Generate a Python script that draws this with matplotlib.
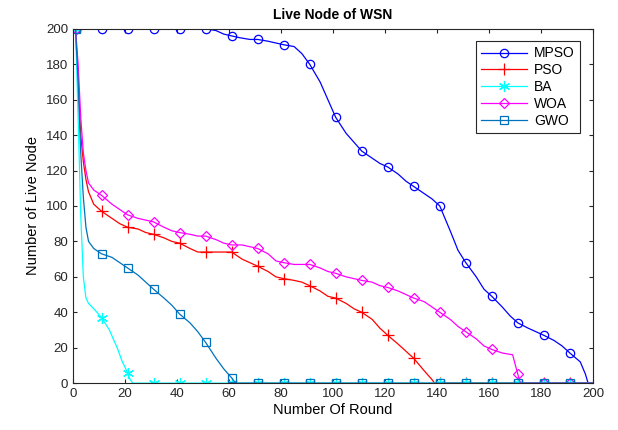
import matplotlib.pyplot as plt

plt.rcParams['font.family'] = ['Liberation Sans', 'DejaVu Sans']

# rounds / live nodes
mpso_x = [1, 11, 21, 31, 41, 51, 55, 58, 61, 64, 68, 71, 75, 78, 81, 85, 88, 91, 95, 98,
          101, 105, 108, 111, 115, 118, 121, 125, 128, 131, 135, 138, 141, 145, 148, 151,
          155, 158, 161, 165, 168, 171, 175, 178, 181, 185, 188, 191, 195, 197, 198, 200]
mpso_y = [200, 200, 200, 200, 200, 200, 199, 197, 196, 195, 194, 194, 193, 192, 191, 190, 186, 180, 170, 160,
          150, 141, 136, 131, 127, 124, 122, 118, 114, 111, 107, 104, 100, 86, 75, 68,
          60, 53, 49, 43, 38, 34, 31, 29, 27, 24, 21, 17, 12, 5, 0, 0]

pso_x = [1, 2, 3, 4, 5, 6, 8, 11, 15, 18, 21, 25, 28, 31, 35, 38, 41, 45, 48, 51, 56, 61,
         65, 68, 71, 75, 78, 81, 85, 88, 91, 95, 98, 101, 105, 108, 111, 115, 118, 121,
         125, 128, 131, 135, 138, 139, 141, 151, 161, 171, 181, 191, 200]
pso_y = [200, 170, 140, 125, 115, 108, 101, 97, 93, 90, 88, 87, 85, 84, 82, 80, 79, 76, 74, 74, 74, 74,
         70, 68, 66, 63, 60, 59, 58, 57, 55, 52, 49, 48, 45, 42, 40, 36, 31, 27,
         22, 18, 14, 7, 2, 0, 0, 0, 0, 0, 0, 0, 0]

ba_x = [1, 2, 3, 4, 5, 6, 8, 11, 14, 17, 19, 21, 22, 23, 31, 41, 51, 61, 71, 81, 91,
        101, 111, 121, 131, 141, 151, 161, 171, 181, 191, 200]
ba_y = [200, 150, 95, 60, 48, 45, 42, 37, 30, 20, 12, 6, 2, 0, 0, 0, 0, 0, 0, 0, 0,
        0, 0, 0, 0, 0, 0, 0, 0, 0, 0, 0]

woa_x = [1, 2, 3, 4, 5, 6, 8, 11, 15, 18, 21, 25, 28, 31, 35, 38, 41, 45, 48, 51, 55, 58,
         61, 65, 68, 71, 75, 78, 81, 85, 88, 91, 95, 98, 101, 105, 108, 111, 115, 118,
         121, 125, 128, 131, 135, 138, 141, 145, 148, 151, 155, 158, 161, 165, 169, 171,
         172, 181, 191, 200]
woa_y = [200, 180, 150, 130, 120, 113, 109, 106, 101, 98, 95, 93, 92, 91, 88, 86, 85, 84, 83, 83, 81, 79,
         78, 78, 77, 76, 73, 69, 68, 67, 67, 67, 65, 63, 62, 60, 59, 58, 57, 55,
         54, 52, 50, 48, 46, 43, 40, 36, 32, 29, 25, 21, 19, 17, 16, 5,
         0, 0, 0, 0]

gwo_x = [1, 2, 3, 4, 5, 6, 8, 11, 15, 18, 21, 25, 28, 31, 35, 38, 41, 45, 48, 51, 55, 58,
         61, 62, 63, 71, 81, 91, 101, 111, 121, 131, 141, 151, 161, 171, 181, 191, 200]
gwo_y = [200, 170, 130, 105, 88, 80, 76, 73, 71, 68, 65, 61, 57, 53, 48, 44, 39, 34, 29, 23, 14, 8,
         3, 1, 0, 0, 0, 0, 0, 0, 0, 0, 0, 0, 0, 0, 0, 0, 0]

# name, x, y, colour, marker, marker size
series = [
    ('MPSO', mpso_x, mpso_y, '#0000ff', 'o', 6),
    ('PSO', pso_x, pso_y, '#ff0000', '+', 8),
    ('BA', ba_x, ba_y, '#00ffff', (6, 2, 0), 8),
    ('WOA', woa_x, woa_y, '#ff00ff', 'D', 5.5),
    ('GWO', gwo_x, gwo_y, '#0072bd', 's', 5.5),
]

fig = plt.figure(figsize=(6.18, 4.30), dpi=100)
ax = fig.add_axes([0.118, 0.109, 0.842, 0.824])

for name, xs, ys, col, mk, ms in series:
    marks = [i for i, v in enumerate(xs) if (v - 1) % 10 == 0 and v <= 191]
    ax.plot(xs, ys, color=col, lw=0.9, marker=mk, markevery=marks,
            markersize=ms, mfc='none', mec=col, mew=0.9, label=name)

ax.set_xlim(0, 200)
ax.set_ylim(0, 200)
ax.set_xticks(range(0, 201, 20))
ax.set_yticks(range(0, 201, 20))
ax.tick_params(direction='in', length=3, top=True, right=True, labelsize=9.5, colors='#262626')
for s in ax.spines.values():
    s.set_color('#262626')
    s.set_linewidth(0.8)

ax.set_title('Live Node of WSN', fontsize=10, fontweight='bold', pad=7)
ax.set_xlabel('Number Of Round', fontsize=10.5, labelpad=2)
ax.set_ylabel('Number of Live Node', fontsize=10.5, labelpad=4)

leg = ax.legend(loc='upper right', bbox_to_anchor=(0.975, 0.966), borderaxespad=0,
                fontsize=10, fancybox=False, framealpha=1, edgecolor='#262626',
                handlelength=3.3, borderpad=0.4, labelspacing=0.2, handletextpad=0.5)
leg.get_frame().set_linewidth(0.8)

fig.savefig('out.png', dpi=100)
